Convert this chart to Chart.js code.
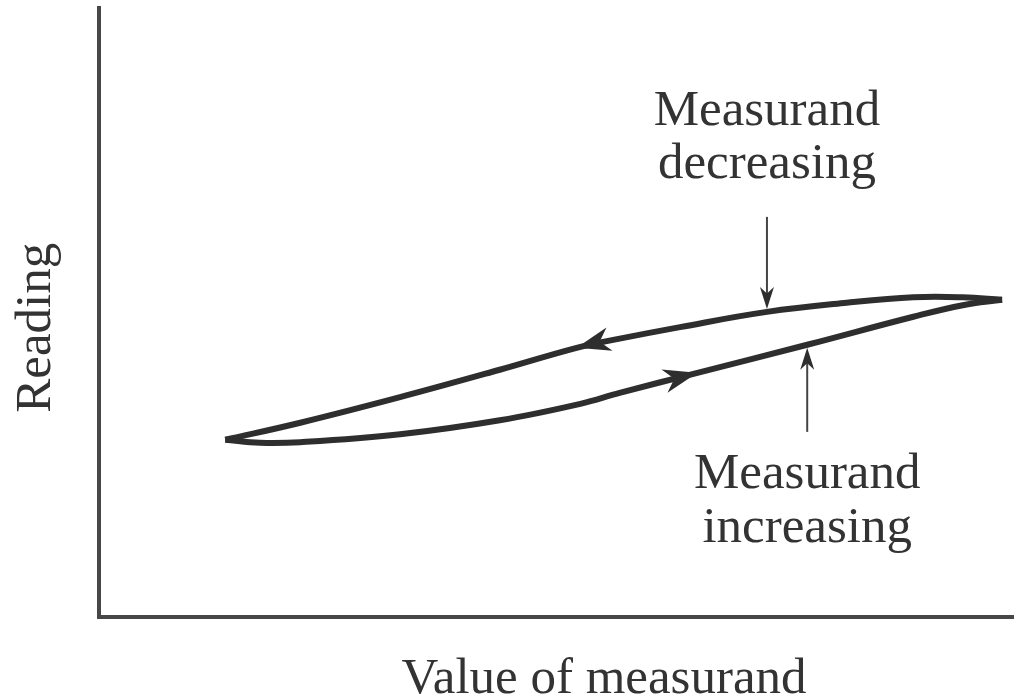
<!DOCTYPE html>
<html>
<head>
<meta charset="utf-8">
<script src="https://cdn.jsdelivr.net/npm/chart.js@4"></script>
<style>
  body { margin: 0; background: #fff; }
  canvas { display: block; }
</style>
</head>
<body>
<canvas id="myChart" width="1014" height="696"></canvas>
<script>
// hysteresis loop (axis units 0..100, no ticks shown)
var decreasingX = [98.7, 94.4, 89.0, 81.7, 73.0, 63.5, 56.2, 52.2, 43.8, 32.9, 22.0, 13.8];
var decreasingY = [52.1, 52.5, 52.5, 51.6, 50.1, 47.6, 45.5, 44.2, 40.6, 36.1, 31.9, 29.1];
var increasingX = [13.8, 17.6, 22.0, 32.9, 43.8, 52.6, 56.9, 65.4, 77.4, 89.0, 94.4, 98.7];
var increasingY = [29.1, 28.6, 28.7, 30.0, 32.3, 35.0, 36.8, 40.1, 44.7, 49.3, 51.2, 52.1];

var decreasingLabel = ['Measurand', 'decreasing'];
var increasingLabel = ['Measurand', 'increasing'];
var xTitle = 'Value of measurand';
var yTitle = 'Reading';

var ink = '#2e2e2e';
var textColor = '#333';
var serif = '"Liberation Serif", "Times New Roman", serif';

// which point carries the direction arrow, and where the pointer lines start
var decArrowIndex = 7;
var incArrowIndex = 7;
var decPointer = { index: 4, from: 65.7 };
var incPointer = { index: 8, from: 30.4 };

function toPoints(xs, ys) {
    return xs.map(function (x, i) { return { x: x, y: ys[i] }; });
}

function arrowHead(ctx, x, y, ang, len, half) {
    ctx.save();
    ctx.translate(x, y);
    ctx.rotate(ang);
    ctx.beginPath();
    ctx.moveTo(0, 0);
    ctx.lineTo(-len, -half);
    ctx.lineTo(-len * 0.7, 0);
    ctx.lineTo(-len, half);
    ctx.closePath();
    ctx.fill();
    ctx.restore();
}

var loopMarks = {
    id: 'loopMarks',
    afterDatasetsDraw: function (chart) {
        var ctx = chart.ctx;
        var ys = chart.scales.y;
        var area = chart.chartArea;
        ctx.save();
        ctx.fillStyle = ink;
        ctx.strokeStyle = '#444';

        // direction arrows on the loop
        [[0, decArrowIndex], [1, incArrowIndex]].forEach(function (d) {
            var pts = chart.getDatasetMeta(d[0]).data;
            var p = pts[d[1]], a = pts[d[1] - 1], b = pts[d[1] + 1];
            var ang = Math.atan2(b.y - a.y, b.x - a.x);
            arrowHead(ctx, p.x, p.y, ang, 34, 12);
        });

        // pointer lines from the labels
        ctx.lineWidth = 2;
        var dp = chart.getDatasetMeta(0).data[decPointer.index];
        var dTop = ys.getPixelForValue(decPointer.from);
        ctx.beginPath();
        ctx.moveTo(dp.x, dTop);
        ctx.lineTo(dp.x, dp.y - 8);
        ctx.stroke();
        arrowHead(ctx, dp.x, dp.y - 3, Math.PI / 2, 22, 7);

        var ip = chart.getDatasetMeta(1).data[incPointer.index];
        var iBot = ys.getPixelForValue(incPointer.from);
        ctx.beginPath();
        ctx.moveTo(ip.x, iBot);
        ctx.lineTo(ip.x, ip.y + 8);
        ctx.stroke();
        arrowHead(ctx, ip.x, ip.y + 3, -Math.PI / 2, 22, 7);

        // labels
        ctx.fillStyle = textColor;
        ctx.font = '51px ' + serif;
        ctx.textAlign = 'center';
        ctx.textBaseline = 'alphabetic';
        ctx.fillText(decreasingLabel[0], dp.x, dTop - 92);
        ctx.fillText(decreasingLabel[1], dp.x, dTop - 39);
        ctx.fillText(increasingLabel[0], ip.x, iBot + 56);
        ctx.fillText(increasingLabel[1], ip.x, iBot + 110);

        // axis titles
        ctx.fillText(xTitle, area.left + 0.552 * (area.right - area.left), area.bottom + 76);
        ctx.save();
        ctx.translate(area.left - 49, area.top + 0.525 * (area.bottom - area.top));
        ctx.rotate(-Math.PI / 2);
        ctx.fillText(yTitle, 0, 0);
        ctx.restore();
        ctx.restore();
    }
};

function axisOpts() {
    return {
        type: 'linear',
        min: 0,
        max: 100,
        ticks: { display: false },
        grid: { display: false, drawTicks: false },
        border: { display: true, width: 4, color: '#474747' }
    };
}

var ctx = document.getElementById('myChart').getContext('2d');
var chart = new Chart(ctx, {
    type: 'scatter',
    data: {
        datasets: [{
            label: 'Measurand decreasing',
            data: toPoints(decreasingX, decreasingY),
            showLine: true,
            borderColor: ink,
            borderWidth: 6,
            tension: 0.4,
            pointRadius: 0
        },
        {
            label: 'Measurand increasing',
            data: toPoints(increasingX, increasingY),
            showLine: true,
            borderColor: ink,
            borderWidth: 6,
            tension: 0.4,
            pointRadius: 0
        }]
    },
    options: {
        responsive: false,
        animation: false,
        layout: { padding: { top: 8, right: 0, bottom: 79, left: 99 } },
        plugins: {
            legend: { display: false },
            tooltip: { enabled: false }
        },
        scales: {
            x: axisOpts(),
            y: axisOpts()
        }
    },
    plugins: [loopMarks]
});
</script>
</body>
</html>
